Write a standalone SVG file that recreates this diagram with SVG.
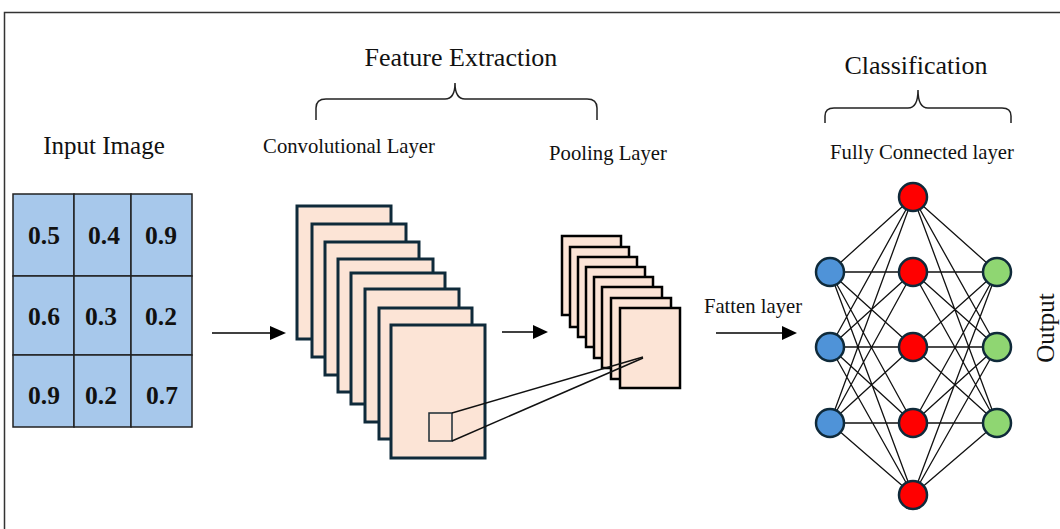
<svg xmlns="http://www.w3.org/2000/svg" width="1060" height="529" viewBox="0 0 1060 529">
<defs>
<style>
.t{font-family:"Liberation Serif","Times New Roman",serif;fill:#111;}
.num{font-family:"Liberation Serif","Times New Roman",serif;font-weight:bold;font-size:25.5px;fill:#111;text-anchor:middle;}
.cell{fill:#a7c8eb;stroke:#222;stroke-width:1.5;}
.conv{fill:#fce4d6;stroke:#0f2a3a;stroke-width:3;}
.pool{fill:#fce4d6;stroke:#000;stroke-width:2.5;}
.brace{fill:none;stroke:#222;stroke-width:1.5;}
.edge{stroke:#111;stroke-width:1.3;fill:none;}
.arr{stroke:#000;stroke-width:1.5;fill:none;}
.ah{fill:#000;}
.nb{fill:#4f93d8;stroke:#0f2a3a;stroke-width:2.5;}
.nr{fill:#ff0000;stroke:#0f2a3a;stroke-width:2.5;}
.ng{fill:#8fd672;stroke:#0f2a3a;stroke-width:2.5;}
</style>
</defs>
<rect x="0" y="0" width="1060" height="529" fill="#fff"/>
<rect x="4.5" y="12.5" width="1100" height="600" fill="none" stroke="#333" stroke-width="1.5"/>

<g id="titles">
<text class="t" x="104" y="154" font-size="25" text-anchor="middle">Input Image</text>
<text class="t" x="461" y="66" font-size="26" text-anchor="middle">Feature Extraction</text>
<text class="t" x="349" y="153" font-size="20.7" text-anchor="middle">Convolutional Layer</text>
<text class="t" x="608" y="160" font-size="20.7" text-anchor="middle">Pooling Layer</text>
<text class="t" x="916" y="74" font-size="26" text-anchor="middle">Classification</text>
<text class="t" x="922" y="159" font-size="20.7" text-anchor="middle">Fully Connected layer</text>
<text class="t" x="753" y="313" font-size="20.7" text-anchor="middle">Fatten layer</text>
<text class="t" transform="translate(1054,328) rotate(-90)" font-size="25" text-anchor="middle">Output</text>
</g>

<g id="braces">
<path class="brace" d="M316,120 L316,108 Q316,99 326,99 L445,99 Q455,99 455,83 Q455,99 465,99 L587,99 Q597,99 597,108 L597,120"/>
<path class="brace" d="M825,123 L825,116 Q825,108 834,108 L908,108 Q918,108 918,90 Q918,108 928,108 L1002,108 Q1011,108 1011,116 L1011,123"/>
</g>

<g id="input-image">
<rect class="cell" x="13" y="194" width="61" height="82"/>
<rect class="cell" x="74" y="194" width="57" height="82"/>
<rect class="cell" x="131" y="194" width="61" height="82"/>
<rect class="cell" x="13" y="276" width="61" height="79"/>
<rect class="cell" x="74" y="276" width="57" height="79"/>
<rect class="cell" x="131" y="276" width="61" height="79"/>
<rect class="cell" x="13" y="355" width="61" height="72"/>
<rect class="cell" x="74" y="355" width="57" height="72"/>
<rect class="cell" x="131" y="355" width="61" height="72"/>
<text class="num" x="44" y="244">0.5</text>
<text class="num" x="104" y="244">0.4</text>
<text class="num" x="161" y="244">0.9</text>
<text class="num" x="44" y="325">0.6</text>
<text class="num" x="101" y="325">0.3</text>
<text class="num" x="161" y="325">0.2</text>
<text class="num" x="44" y="404">0.9</text>
<text class="num" x="101" y="404">0.2</text>
<text class="num" x="162" y="404">0.7</text>
</g>

<g id="conv-layer">
<rect class="conv" x="297" y="206" width="94" height="133"/>
<rect class="conv" x="312" y="224" width="94" height="133"/>
<rect class="conv" x="325" y="242" width="94" height="133"/>
<rect class="conv" x="338" y="259" width="95" height="133"/>
<rect class="conv" x="351" y="273" width="94" height="131"/>
<rect class="conv" x="365" y="289" width="94" height="133"/>
<rect class="conv" x="379" y="308" width="93" height="131"/>
<rect class="conv" x="391" y="325" width="94" height="133"/>
<rect x="429" y="413" width="23" height="28" fill="none" stroke="#1a2a33" stroke-width="1.5"/>
</g>

<g id="pooling-layer">
<rect class="pool" x="562" y="236" width="59" height="79"/>
<rect class="pool" x="570" y="247" width="59" height="80"/>
<rect class="pool" x="578" y="257" width="59" height="80"/>
<rect class="pool" x="586" y="267" width="59" height="80"/>
<rect class="pool" x="594" y="277" width="59" height="81"/>
<rect class="pool" x="602" y="287" width="60" height="81"/>
<rect class="pool" x="611" y="298" width="60" height="81"/>
<rect class="pool" x="620" y="308" width="60" height="80"/>
</g>

<g id="fc-layer">
<g id="edges">
<path class="edge" d="M830,272L913,197M830,272L913,272M830,272L913,347M830,272L913,423M830,272L913,495M830,347L913,197M830,347L913,272M830,347L913,347M830,347L913,423M830,347L913,495M830,423L913,197M830,423L913,272M830,423L913,347M830,423L913,423M830,423L913,495"/>
<path class="edge" d="M913,197L997,272M913,197L997,347M913,197L997,423M913,272L997,272M913,272L997,347M913,272L997,423M913,347L997,272M913,347L997,347M913,347L997,423M913,423L997,272M913,423L997,347M913,423L997,423M913,495L997,272M913,495L997,347M913,495L997,423"/>
</g>
<g id="input-nodes">
<circle class="nb" cx="830" cy="272" r="14"/>
<circle class="nb" cx="830" cy="347" r="14"/>
<circle class="nb" cx="830" cy="423" r="14"/>
</g>
<g id="hidden-nodes">
<circle class="nr" cx="913" cy="197" r="14"/>
<circle class="nr" cx="913" cy="272" r="14"/>
<circle class="nr" cx="913" cy="347" r="14"/>
<circle class="nr" cx="913" cy="423" r="14"/>
<circle class="nr" cx="913" cy="495" r="14"/>
</g>
<g id="output-nodes">
<circle class="ng" cx="997" cy="272" r="14"/>
<circle class="ng" cx="997" cy="347" r="14"/>
<circle class="ng" cx="997" cy="423" r="14"/>
</g>
</g>

<g id="connectors">
<line class="arr" x1="212" y1="333" x2="272" y2="333"/>
<polygon class="ah" points="270,326 286,333 270,340"/>
<line class="arr" x1="502" y1="332" x2="535" y2="332"/>
<polygon class="ah" points="533,325 548,332 533,339"/>
<line class="arr" x1="716" y1="333" x2="784" y2="333"/>
<polygon class="ah" points="782,326 797,333 782,340"/>
<line x1="452" y1="413" x2="643" y2="357" stroke="#111" stroke-width="1.5"/>
<line x1="452" y1="441" x2="643" y2="358" stroke="#111" stroke-width="1.5"/>
</g>
</svg>
